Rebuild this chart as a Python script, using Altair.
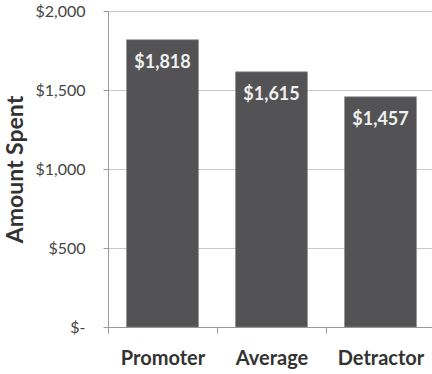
import altair as alt
import pandas as pd

categories = ["Promoter", "Average", "Detractor"]
amounts = [1818, 1615, 1457]
labels = ["$1,818", "$1,615", "$1,457"]

df = pd.DataFrame({"cat": categories, "amt": amounts, "lab": labels})

FONT = "Lato"

x = alt.X("cat:N", sort=categories, title=None,
          scale=alt.Scale(range=[0, 327], paddingInner=0, paddingOuter=0),
          axis=alt.Axis(tickBand="extent", labelAngle=0, labelFont=FONT, labelFontWeight="bold",
                        labelFontSize=20, labelColor="#333333", labelPadding=15,
                        tickSize=6, tickColor="#999999", domainColor="#999999", ticks=True))
y = alt.Y("amt:Q", title="Amount Spent",
          scale=alt.Scale(domain=[0, 2000], nice=False),
          axis=alt.Axis(values=[0, 500, 1000, 1500, 2000],
                        labelExpr="datum.value == 0 ? '$-  ' : '$' + format(datum.value, ',')",
                        labelFont=FONT, labelFontSize=16, labelColor="#444444", labelPadding=18,
                        tickSize=5, tickColor="#999999", domainColor="#999999",
                        gridColor="#c8c8c8", grid=True,
                        titleFont=FONT, titleFontSize=23, titleFontWeight="bold",
                        titleColor="#333333", titlePadding=7))

bars = alt.Chart(df).mark_bar(color="#535355", width=alt.RelativeBandSize(0.66),
                              stroke="#8a8a8a", strokeWidth=0.6).encode(x=x, y=y)
text = alt.Chart(df).mark_text(color="#f0f0f0", font=FONT, fontWeight="bold", fontSize=18,
                               baseline="middle", dy=23).encode(
    x=alt.X("cat:N", sort=categories), y="amt:Q", text="lab:N")

chart = (bars + text).properties(
    width=324, height=316,
    autosize=alt.AutoSizeParams(type="none"),
    padding={"left": 108, "top": 11, "right": 0, "bottom": 47},
).configure_view(stroke=None).configure(background="white")

chart.save("out.html", embed_options={"renderer": "svg", "actions": False})
